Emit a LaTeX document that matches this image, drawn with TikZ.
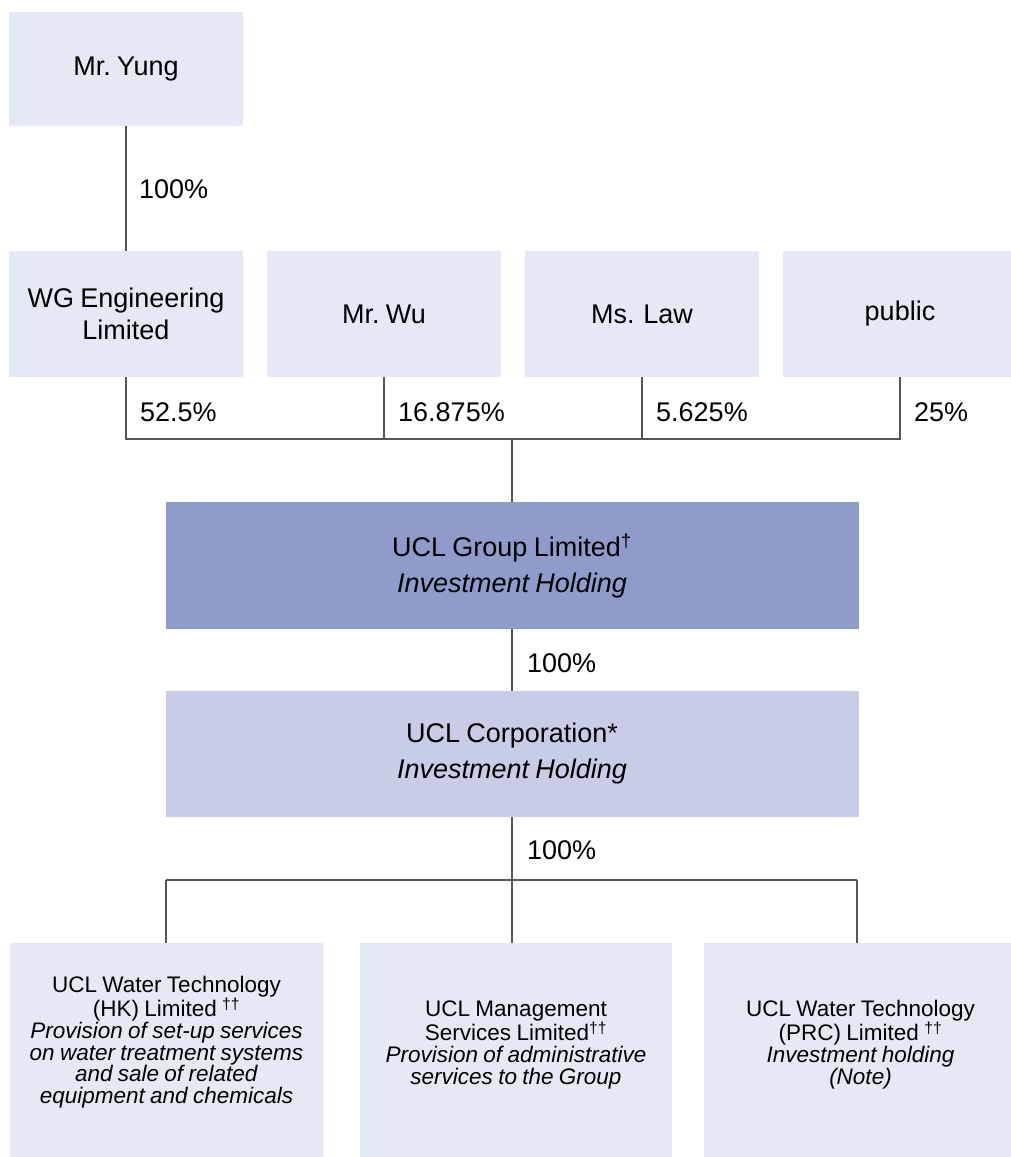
\documentclass[tikz,border=0pt]{standalone}
\usepackage{fontspec}
\setmainfont{Liberation Sans}[WordSpace=0.85]
\definecolor{lightbox}{HTML}{E4E9F5}
\definecolor{groupcol}{HTML}{8F9BCB}
\definecolor{corpcol}{HTML}{C8CCE6}
\definecolor{linecol}{HTML}{555555}
\begin{document}
\begin{tikzpicture}[x=1pt,y=-1pt,
  box/.style={rectangle, fill=lightbox, inner sep=0pt, align=center, font=\fontsize{27}{32}\selectfont},
  conn/.style={draw=linecol, line width=1.2pt},
  pct/.style={anchor=west, inner sep=0pt, font=\fontsize{27}{32}\selectfont},
  btext/.style={align=center, inner sep=0pt, font=\fontsize{22.5}{21.7}\selectfont}]
\useasboundingbox (0,0) rectangle (1010,1157);
\fill[white] (0,0) rectangle (1010,1157);

% top owner
\node[box, minimum width=234pt, minimum height=114pt] (yung) at (126,69) {Mr.\ Yung};

% second row
\node[box, minimum width=234pt, minimum height=126pt] (wg) at (126,314) {WG Engineering\\Limited};
\node[box, minimum width=234pt, minimum height=126pt] (wu) at (384,314) {Mr.\ Wu};
\node[box, minimum width=234pt, minimum height=126pt] (law) at (642,314) {Ms. Law};
\node[box, minimum width=234pt, minimum height=126pt] (pub) at (900,314) {public};

% group and corporation
\node[box, fill=groupcol, minimum width=693pt, minimum height=127pt, font=\fontsize{27}{36}\selectfont] (grp) at (512,565.5)
  {UCL Group Limited\textsuperscript{†}\\\textit{Investment Holding}};
\node[box, fill=corpcol, minimum width=693pt, minimum height=126pt, font=\fontsize{27}{36}\selectfont] (corp) at (512,754)
  {UCL Corporation*\\\textit{Investment Holding}};

% subsidiaries
\node[box, minimum width=313pt, minimum height=214pt] (b1) at (166.5,1050) {};
\node[box, minimum width=312pt, minimum height=214pt] (b2) at (516,1050) {};
\node[box, minimum width=313pt, minimum height=214pt] (b3) at (860.5,1050) {};
\node[btext] (b1t) at ([yshift=8pt]b1.center)
  {UCL Water Technology\\(HK) Limited \textsuperscript{††}\\\textit{Provision of set-up services}\\\textit{on water treatment systems}\\\textit{and sale of related}\\\textit{equipment and chemicals}};
\node[btext] (b2t) at ([yshift=5.5pt]b2.center)
  {UCL Management\\Services Limited\textsuperscript{††}\\\textit{Provision of administrative}\\\textit{services to the Group}};
\node[btext] (b3t) at ([yshift=5.5pt]b3.center)
  {UCL Water Technology\\(PRC) Limited \textsuperscript{††}\\\textit{Investment holding}\\\textit{(Note)}};

% connectors
\draw[conn] (yung.south) -- (wg.north);
\node[pct] (p0) at (139,189) {100\%};

\coordinate (j1) at (512,439);
\draw[conn] (wg.south) -- (wg.south |- j1) -- (pub.south |- j1) -- (pub.south);
\draw[conn] (wu.south) -- (wu.south |- j1);
\draw[conn] (law.south) -- (law.south |- j1);
\draw[conn] (j1) -- (j1 |- grp.north);
\node[pct] (p1) at (140,412) {52.5\%};
\node[pct] (p2) at (398,412) {16.875\%};
\node[pct] (p3) at (656,412) {5.625\%};
\node[pct] (p4) at (914,412) {25\%};

\draw[conn] (grp.south) -- (corp.north);
\node[pct] (p5) at (527,663) {100\%};

\coordinate (j2) at (512,880);
\coordinate (l1) at (166,880);
\coordinate (l3) at (857,880);
\draw[conn] (corp.south) -- (j2);
\draw[conn] (l1) -- (l3);
\draw[conn] (l1) -- (l1 |- b1.north);
\draw[conn] (j2) -- (j2 |- b2.north);
\draw[conn] (l3) -- (l3 |- b3.north);
\node[pct] (p6) at (527,850) {100\%};
\end{tikzpicture}
\end{document}
